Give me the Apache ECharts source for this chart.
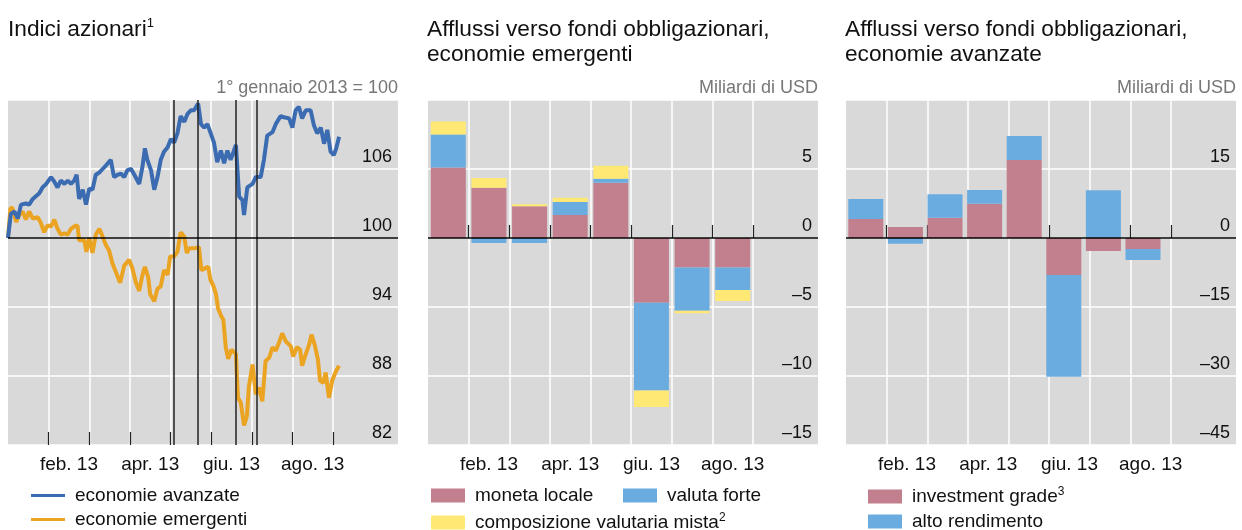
<!DOCTYPE html>
<html>
<head>
<meta charset="utf-8">
<script src="https://cdn.jsdelivr.net/npm/echarts@6/dist/echarts.min.js"></script>
<style>
html,body{margin:0;padding:0;background:#fff;}
#chart{width:1242px;height:530px;}
</style>
</head>
<body>
<div id="chart"></div>
<script>
// asse x in mesi dal 1 gennaio 2013 (0 = 1 gen, 1 = 1 feb, ...)
var monthTicks = [1, 2, 3, 4, 5, 6, 7, 8];
var xLabelPos = [1.5, 3.5, 5.5, 7.5];
var xLabels = ['feb. 13', 'apr. 13', 'giu. 13', 'ago. 13'];
var mesi = ['gen', 'feb', 'mar', 'apr', 'mag', 'giu', 'lug', 'ago', 'set', 'ott'];

// indici azionari, 1 gen 2013 = 100
var avanzate = [[0,100],[0.07,102.1],[0.16,102.3],[0.24,101.7],[0.32,102.9],[0.44,103.0],[0.52,102.9],[0.61,103.4],[0.77,103.9],[0.85,104.4],[0.94,104.7],[1.06,105.3],[1.14,104.9],[1.22,104.4],[1.30,105.0],[1.39,104.7],[1.47,105.0],[1.55,104.7],[1.63,105.0],[1.69,105.5],[1.75,103.4],[1.84,104.2],[1.92,102.9],[2.00,104.3],[2.08,104.2],[2.16,105.5],[2.25,105.7],[2.33,106.0],[2.41,106.3],[2.53,106.8],[2.61,105.3],[2.70,105.5],[2.78,105.6],[2.86,105.3],[2.94,105.9],[3.03,106.0],[3.11,105.5],[3.23,104.7],[3.31,106.2],[3.37,107.8],[3.43,106.8],[3.52,105.9],[3.60,104.2],[3.68,105.3],[3.76,106.8],[3.84,107.5],[3.93,107.9],[4.01,108.6],[4.09,108.3],[4.17,109.1],[4.25,110.6],[4.34,110.1],[4.42,110.8],[4.50,111.1],[4.58,111.1],[4.68,111.7],[4.75,109.9],[4.83,109.6],[4.91,109.9],[4.99,109.1],[5.07,108.3],[5.15,106.6],[5.24,107.6],[5.32,106.5],[5.40,107.6],[5.48,106.8],[5.61,108.1],[5.69,103.6],[5.77,103.3],[5.81,102.0],[5.89,104.4],[6.02,104.7],[6.10,105.3],[6.22,105.3],[6.30,106.8],[6.38,108.9],[6.51,109.2],[6.59,109.9],[6.71,110.6],[6.79,110.5],[6.92,110.4],[7.00,109.6],[7.08,111.1],[7.16,111.4],[7.24,110.4],[7.33,111.1],[7.45,111.1],[7.53,109.8],[7.61,109.1],[7.70,109.6],[7.78,108.2],[7.86,109.4],[7.94,107.5],[8.02,107.2],[8.08,107.8],[8.15,108.8]];
var emergenti = [[0,100],[0.06,102.6],[0.11,102.6],[0.20,101.4],[0.28,102.0],[0.36,102.3],[0.44,101.6],[0.52,102.3],[0.61,101.7],[0.73,101.8],[0.81,101.3],[0.89,100.5],[0.97,101.1],[1.06,101.0],[1.14,101.6],[1.22,100.8],[1.30,100.3],[1.39,100.4],[1.47,100.3],[1.55,100.8],[1.63,101.0],[1.71,101.1],[1.75,99.8],[1.88,99.8],[1.93,98.8],[2.00,100.0],[2.08,98.7],[2.16,100.3],[2.25,100.8],[2.33,100.1],[2.41,99.4],[2.49,98.9],[2.57,97.8],[2.66,97.0],[2.76,96.1],[2.86,97.6],[2.98,98.1],[3.06,97.4],[3.15,96.1],[3.23,95.4],[3.31,96.8],[3.37,97.5],[3.45,96.6],[3.50,95.1],[3.60,94.5],[3.68,95.6],[3.76,95.8],[3.84,97.2],[3.93,96.8],[3.99,98.4],[4.09,98.4],[4.17,98.8],[4.25,100.5],[4.34,100.1],[4.40,98.7],[4.46,99.1],[4.58,99.1],[4.70,99.2],[4.76,97.2],[4.87,97.4],[4.93,97.5],[4.98,96.4],[5.06,95.8],[5.12,95.1],[5.17,93.9],[5.25,93.2],[5.30,92.9],[5.36,90.5],[5.42,89.5],[5.50,90.3],[5.61,89.9],[5.66,86.1],[5.73,85.7],[5.81,83.7],[5.88,84.5],[5.93,87.1],[6.02,89.0],[6.10,86.4],[6.18,87.0],[6.26,85.8],[6.34,89.3],[6.43,89.6],[6.51,90.5],[6.59,90.2],[6.67,90.9],[6.75,91.7],[6.84,91.0],[6.96,90.6],[7.02,89.7],[7.11,90.5],[7.19,90.3],[7.24,88.9],[7.33,89.9],[7.41,90.7],[7.47,91.6],[7.55,90.7],[7.63,89.4],[7.68,87.6],[7.76,87.4],[7.82,88.3],[7.90,86.1],[7.98,87.6],[8.07,88.4],[8.15,88.9]];
var eventi = [4.07, 4.68, 5.60, 6.12];

// afflussi mensili, miliardi di USD (gen-ago)
var monetaLocale = [5.1, 3.65, 2.3, 1.67, 4.0, -4.7, -2.13, -2.13];
var valutaForte = [2.4, -0.36, -0.36, 0.94, 0.29, -6.35, -3.14, -1.64];
var mista = [0.94, 0.7, 0.15, 0.31, 0.94, -1.2, -0.19, -0.8];
var investmentGrade = [4.13, 2.4, 4.4, 7.46, 16.96, -8.04, -2.83, -2.4];
var altoRendimento = [4.35, -1.23, 5.1, 2.97, 5.2, -22.1, 10.4, -2.4];

var FONT = '"Liberation Sans", Arial, sans-serif';
var sup = { 'composizione valutaria mista': '2', 'investment grade': '3' };
var gridLeft = [8, 428, 846];
var MONTH_W = 390 / 9.6;

function xAxisFor(i) {
    return {
        type: 'value', gridIndex: i, min: 0, max: 9.6, interval: 1,
        axisLine: { show: false },
        axisTick: { show: true, inside: true, length: 13, customValues: monthTicks,
            lineStyle: { color: '#222', width: 1.2 } },
        axisLabel: { customValues: xLabelPos, margin: 10, fontSize: 19, color: '#111', fontFamily: FONT,
            formatter: function (v) { return xLabels[xLabelPos.indexOf(v)] || ''; } },
        splitLine: { show: true, lineStyle: { color: '#fff', width: 1.5 } }
    };
}

function yAxisFor(i, min, max, step) {
    return {
        type: 'value', gridIndex: i, position: 'right', min: min, max: max, interval: step,
        axisLine: { show: false }, axisTick: { show: false },
        axisLabel: { inside: true, margin: 6, fontSize: 18, color: '#111', fontFamily: FONT,
            verticalAlign: 'bottom', padding: [0, 0, 3, 0], showMaxLabel: false,
            formatter: function (v) { return v < 0 ? '\u2013' + (-v) : '' + v; } },
        splitLine: { show: true, lineStyle: { color: '#fff', width: 1.5 } }
    };
}

// griglie nascoste per le barre: asse a categorie mensili, stessa scala verticale
function barXAxis(i) {
    return { type: 'category', gridIndex: i, data: mesi, show: false };
}
function barYAxis(i, min, max) {
    return { type: 'value', gridIndex: i, min: min, max: max, show: false, splitLine: { show: false } };
}

function zeroSeries(gi, v) {
    return { type: 'line', xAxisIndex: gi, yAxisIndex: gi, data: [], silent: true,
        markLine: { silent: true, symbol: 'none', label: { show: false },
            lineStyle: { color: '#000', width: 1.5, type: 'solid' }, data: [{ yAxis: v }] } };
}

function barSeries(name, vals, color, gi, stack) {
    return { name: name, type: 'bar', xAxisIndex: gi, yAxisIndex: gi, stack: stack,
        barWidth: 35, data: vals, itemStyle: { color: color }, silent: true };
}

function legendItem(name, left, top, h) {
    return { data: [name], left: left, top: top, padding: 0, itemWidth: 34, itemHeight: h,
        icon: 'rect', selectedMode: false,
        formatter: function (n) { return sup[n] ? n + '{s|' + sup[n] + '}' : n; },
        textStyle: { fontSize: 19, color: '#111', fontFamily: FONT, padding: [0, 0, 0, 5],
            rich: { s: { fontSize: 12, fontFamily: FONT, color: '#111', verticalAlign: 'top', padding: [0, 0, 9, 0] } } } };
}

function title(x, txt, s) {
    return { type: 'text', x: x, y: 17, silent: true,
        style: { text: txt + (s ? '{s|' + s + '}' : ''), fontSize: 22.7, lineHeight: 25, fill: '#111', fontFamily: FONT,
            verticalAlign: 'top',
            rich: { s: { fontSize: 13, fill: '#111', fontFamily: FONT, verticalAlign: 'top', padding: [0, 0, 12, 0] } } } };
}

function unit(x, txt) {
    return { type: 'text', x: x, y: 88, silent: true,
        style: { text: txt, fontSize: 18, fill: '#777', fontFamily: FONT, align: 'right', verticalAlign: 'middle' } };
}

var chart = echarts.init(document.getElementById('chart'), null, { renderer: 'canvas' });

var grids = gridLeft.map(function (l) {
    return { left: l, top: 100, width: 390, height: 345, show: true,
        backgroundColor: '#d9d9d9', borderWidth: 0 };
});
grids.push({ left: gridLeft[1], top: 100, width: MONTH_W * 10, height: 345, show: false });
grids.push({ left: gridLeft[2], top: 100, width: MONTH_W * 10, height: 345, show: false });

chart.setOption({
    animation: false,
    backgroundColor: '#fff',
    grid: grids,
    xAxis: [xAxisFor(0), xAxisFor(1), xAxisFor(2), barXAxis(3), barXAxis(4)],
    yAxis: [yAxisFor(0, 82, 112, 6), yAxisFor(1, -15, 10, 5), yAxisFor(2, -45, 30, 15),
        barYAxis(3, -15, 10), barYAxis(4, -45, 30)],
    legend: [
        legendItem('economie avanzate', 31, 486, 3),
        legendItem('economie emergenti', 31, 510, 3),
        legendItem('moneta locale', 431, 486, 14),
        legendItem('valuta forte', 623, 486, 14),
        legendItem('composizione valutaria mista', 431, 512, 14),
        legendItem('investment grade', 868, 486, 14),
        legendItem('alto rendimento', 868, 512, 14)
    ],
    graphic: [
        title(8, 'Indici azionari', '1'),
        title(427, 'Afflussi verso fondi obbligazionari,\neconomie emergenti'),
        title(845, 'Afflussi verso fondi obbligazionari,\neconomie avanzate'),
        unit(398, '1\u00b0 gennaio 2013 = 100'),
        unit(818, 'Miliardi di USD'),
        unit(1236, 'Miliardi di USD')
    ],
    series: [
        { name: 'economie emergenti', type: 'line', xAxisIndex: 0, yAxisIndex: 0, data: emergenti,
            color: '#eba322', showSymbol: false, lineStyle: { width: 4, color: '#eba322' }, silent: true,
            markLine: { silent: true, symbol: 'none', label: { show: false },
                lineStyle: { color: '#222', width: 1.5, type: 'solid' },
                data: eventi.map(function (v) { return { xAxis: v }; }).concat([{ yAxis: 100, lineStyle: { color: '#000' } }]) } },
        { name: 'economie avanzate', type: 'line', xAxisIndex: 0, yAxisIndex: 0, data: avanzate,
            color: '#3b6cb2', showSymbol: false, lineStyle: { width: 4, color: '#3b6cb2' }, silent: true },

        barSeries('moneta locale', monetaLocale, '#c27f8d', 3, 'em'),
        barSeries('valuta forte', valutaForte, '#6aace0', 3, 'em'),
        barSeries('composizione valutaria mista', mista, '#ffe873', 3, 'em'),
        zeroSeries(1, 0),

        barSeries('investment grade', investmentGrade, '#c27f8d', 4, 'av'),
        barSeries('alto rendimento', altoRendimento, '#6aace0', 4, 'av'),
        zeroSeries(2, 0)
    ]
});
</script>
</body>
</html>
